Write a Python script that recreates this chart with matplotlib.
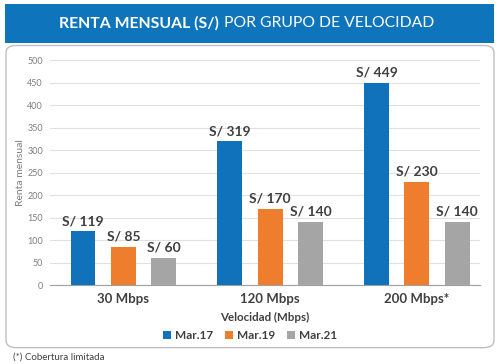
import matplotlib.pyplot as plt
import numpy as np
from matplotlib.patches import FancyBboxPatch, Rectangle

categories = ['30 Mbps', '120 Mbps', '200 Mbps*']
series = ['Mar.17', 'Mar.19', 'Mar.21']
mar17 = [119, 319, 449]
mar19 = [85, 170, 230]
mar21 = [60, 140, 140]
colors = ['#0F72BA', '#EE7D2E', '#A5A5A5']

plt.rcParams['font.family'] = ['Lato', 'DejaVu Sans']

fig = plt.figure(figsize=(5, 3.64), dpi=100)

# outer rounded frame and title banner (behind the axes)
frame = FancyBboxPatch((0.012, 0.045), 0.976, 0.83, boxstyle='round,pad=0,rounding_size=0.02',
                       transform=fig.transFigure, facecolor='white', edgecolor='#BFBFBF',
                       lw=1.0, zorder=-2)
fig.patches.append(frame)
banner = Rectangle((0.01, 0.882), 0.978, 0.107, transform=fig.transFigure,
                   facecolor='#0E75BC', edgecolor='none', zorder=-1)
fig.patches.append(banner)
fig.text(0.437, 0.937, 'RENTA MENSUAL (S/)', color='white', fontsize=11.3,
         fontweight='bold', ha='right', va='center')
fig.text(0.448, 0.937, 'POR GRUPO DE VELOCIDAD', color='white', fontsize=11.3,
         ha='left', va='center')

ax = fig.add_axes([0.1, 0.217, 0.86, 0.618])
ax.patch.set_alpha(0)
x = np.arange(len(categories))
w = 0.17
off = 0.275
data = [mar17, mar19, mar21]
for i, (vals, c, lab) in enumerate(zip(data, colors, series)):
    bars = ax.bar(x + (i - 1) * off, vals, width=w, color=c, label=lab, zorder=3)
    for b, v in zip(bars, vals):
        ax.text(b.get_x() + b.get_width() / 2, v + 9, 'S/ %d' % v, ha='center', va='bottom',
                fontsize=10, fontweight='bold', color='#404040')

ax.set_xlim(-0.5, 2.43)
ax.set_ylim(0, 500)
ax.set_yticks(np.arange(0, 501, 50))
ax.yaxis.grid(True, color='#E0E0E0', lw=0.8, zorder=0)
ax.tick_params(axis='y', length=0, labelsize=6.5, labelcolor='#7F7F7F', pad=5)
ax.tick_params(axis='x', length=0, labelsize=9.5, labelcolor='#404040', pad=6)
ax.set_xticks(x)
ax.set_xticklabels(categories, fontweight='bold')
for s in ['top', 'right', 'left']:
    ax.spines[s].set_visible(False)
ax.spines['bottom'].set_color('#A0A0A0')
ax.set_ylabel('Renta mensual', fontsize=7.5, color='#7F7F7F', labelpad=2)
ax.set_xlabel('Velocidad (Mbps)', fontsize=8.3, fontweight='bold', color='#404040', labelpad=5)

leg = fig.legend(loc='center', bbox_to_anchor=(0.5, 0.077), ncol=3, frameon=False,
                 fontsize=8.5, handlelength=0.65, handleheight=0.65, handletextpad=0.35,
                 columnspacing=1.0)
for t in leg.get_texts():
    t.set_color('#404040')
    t.set_fontweight('bold')

fig.text(0.026, 0.02, '(*) Cobertura limitada', fontsize=7, color='#404040', va='center')

fig.savefig('out.png', dpi=100)
